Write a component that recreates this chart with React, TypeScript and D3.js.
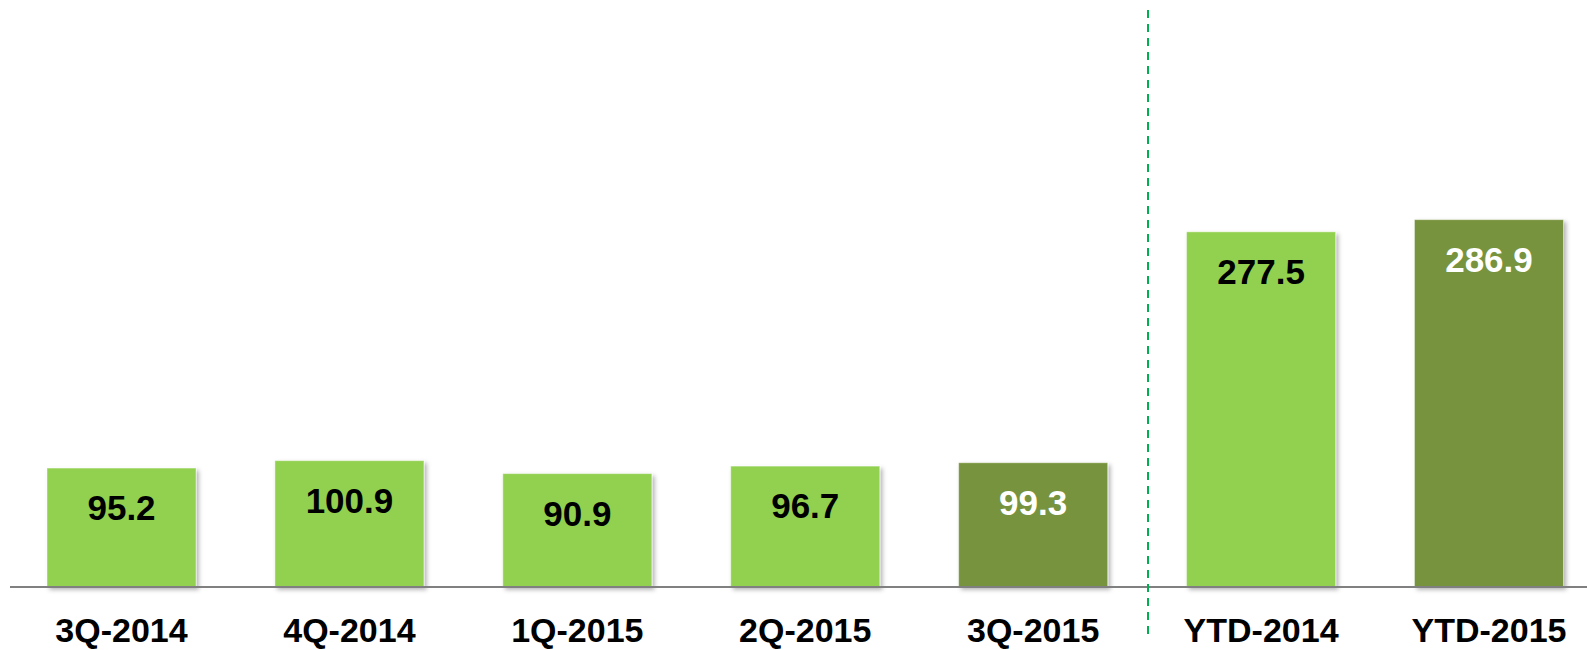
import React from 'react'
import * as d3 from 'd3'

const CATEGORIES = ['3Q-2014', '4Q-2014', '1Q-2015', '2Q-2015', '3Q-2015', 'YTD-2014', 'YTD-2015']
const VALUES = [95.2, 100.9, 90.9, 96.7, 99.3, 277.5, 286.9]
// the highlighted (current period) bars are drawn dark
const HIGHLIGHT = [false, false, false, false, true, false, true]

const WIDTH = 1587
const HEIGHT = 650
const BASELINE = 587
const LIGHT = '#92D050'
const DARK = '#77933C'
const FONT = '"Liberation Sans", Arial, sans-serif'

export default function App() {
  const x = d3
    .scaleBand<string>()
    .domain(CATEGORIES)
    .range([47, 1563.5])
    .paddingInner(0.346)
    .paddingOuter(0)

  // axis in the source does not start exactly at zero
  const y = d3.scaleLinear().domain([3.4, 300]).range([BASELINE, BASELINE - 296.6 * 1.2958])

  // dashed separator between the quarters and the YTD totals
  const sepX = Math.round(((x('3Q-2015') ?? 0) + x.bandwidth() + (x('YTD-2014') ?? 0)) / 2) + 1

  return (
    <svg
      width={WIDTH}
      height={HEIGHT}
      style={{ position: 'absolute', left: 0, top: 0, display: 'block', background: '#fff' }}
    >
      <defs>
        <filter id="shadow" x="-10%" y="-10%" width="130%" height="130%">
          <feDropShadow dx="2.5" dy="2.5" stdDeviation="2" floodColor="#000" floodOpacity="0.3" />
        </filter>
      </defs>

      {CATEGORIES.map((c, i) => {
        const x0 = x(c) ?? 0
        const top = y(VALUES[i])
        const dark = HIGHLIGHT[i]
        return (
          <g key={c}>
            <rect
              x={x0}
              y={top}
              width={x.bandwidth()}
              height={BASELINE - top}
              fill={dark ? DARK : LIGHT}
              stroke="rgba(255,255,255,0.45)"
              strokeWidth={1}
              filter="url(#shadow)"
            />
            <text
              x={x0 + x.bandwidth() / 2}
              y={top + 52}
              textAnchor="middle"
              fontFamily={FONT}
              fontWeight="bold"
              fontSize={35}
              fill={dark ? '#fff' : '#000'}
            >
              {VALUES[i].toFixed(1)}
            </text>
            <text
              x={x0 + x.bandwidth() / 2}
              y={642}
              textAnchor="middle"
              fontFamily={FONT}
              fontWeight="bold"
              fontSize={34}
              fill="#000"
            >
              {c}
            </text>
          </g>
        )
      })}

      <line x1={10} x2={WIDTH} y1={BASELINE} y2={BASELINE} stroke="#808080" strokeWidth={2} />

      <line
        x1={sepX}
        x2={sepX}
        y1={10}
        y2={634}
        stroke="#00B050"
        strokeWidth={2}
        strokeDasharray="8,6"
      />
    </svg>
  )
}
